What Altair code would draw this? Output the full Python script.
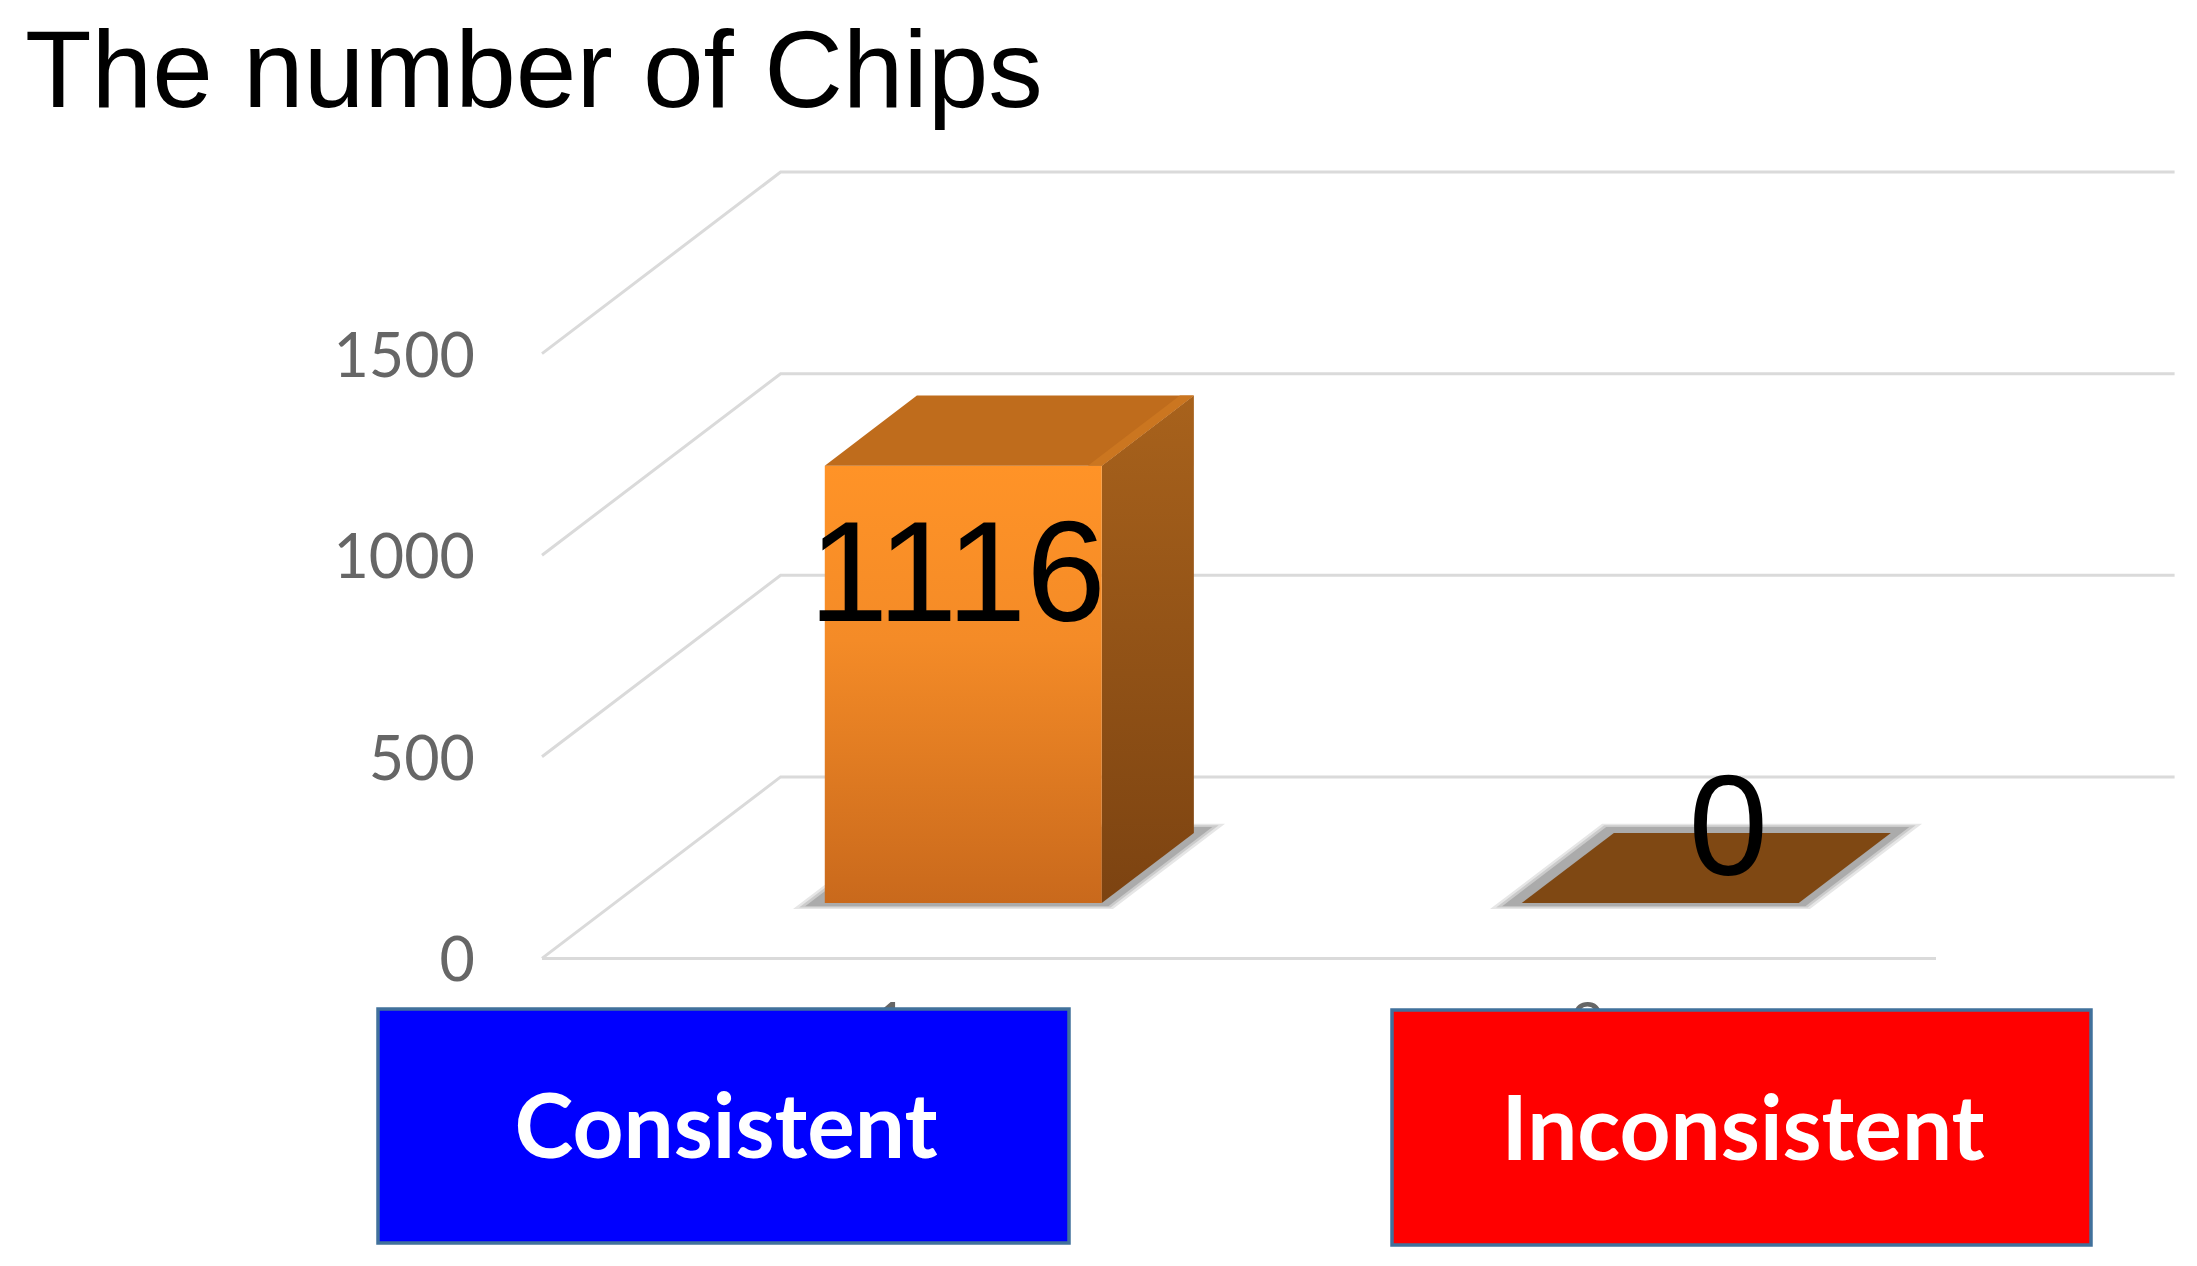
import altair as alt
import pandas as pd

# ---- chart values ----
categories = [1, 2]
values = [1116, 0]
value_labels = ["1116", "0"]
tick_values = [0, 500, 1000, 1500]
box_labels = ["Consistent", "Inconsistent"]
title_text = "The number of Chips"

# ---- layout / 3-D projection (page pixels -> data units) ----
W, H = 2181, 1120
PAD_TOP = 130
ORIGIN_X, ORIGIN_Y = 8, 8 + PAD_TOP
PX_PER_CAT = 697.0
PX_PER_VAL = 0.4032
X1_PX = 890.5      # page x of category 1 on the front plane
Y0_PX = 958.4      # page y of value 0 on the front plane
DEPTH_X = 238.6 / PX_PER_CAT   # shift of the back wall, in category units
DEPTH_Y = 181.5 / PX_PER_VAL   # shift of the back wall, in value units
FLOOR = (0.5, 2.5)
BAR_HALF = 0.1987
BAR_D0, BAR_D1 = 0.305, 0.691
BAR_K = 0.972

x_scale = alt.Scale(
    domain=[1 + (ORIGIN_X - X1_PX) / PX_PER_CAT, 1 + (ORIGIN_X + W - X1_PX) / PX_PER_CAT],
    range=[0, W], nice=False, zero=False)
y_scale = alt.Scale(
    domain=[(Y0_PX - ORIGIN_Y - H) / PX_PER_VAL, (Y0_PX - ORIGIN_Y) / PX_PER_VAL],
    range=[H, 0], nice=False, zero=False)


def px(x, v, d):
    return x + d * DEPTH_X, v + d * DEPTH_Y


def X(f="x"):
    return alt.X(f"{f}:Q", scale=x_scale, axis=None, title=None)


def Y(f="y"):
    return alt.Y(f"{f}:Q", scale=y_scale, axis=None, title=None)


def vgrad(stops):
    return alt.Gradient(gradient="linear", x1=0, y1=0, x2=0, y2=1,
                        stops=[alt.GradientStop(color=c, offset=o) for c, o in stops])


def floor_quad(c, lo, hi, d0, d1, v, color):
    """Parallelogram lying on a horizontal plane at height v."""
    rows = []
    for d in (d0, d1):
        xa, y = px(c + lo, v, d)
        xb, _ = px(c + hi, v, d)
        rows.append({"x": xa, "x2": xb, "y": y})
    return alt.Chart(pd.DataFrame(rows)).mark_area(orient="horizontal", color=color, line=False).encode(
        x=X(), x2="x2:Q", y=Y())


layers = []

# wall and floor lines
grid = []
for v in tick_values:
    for i, (xx, d) in enumerate([(FLOOR[0], 0), (FLOOR[0], 1), (FLOOR[1], 1)]):
        gx, gy = px(xx, v, d)
        grid.append({"x": gx, "y": gy, "k": v, "o": i})
for i, xx in enumerate(FLOOR):
    gx, gy = px(xx, 0, 0)
    grid.append({"x": gx, "y": gy, "k": -1, "o": i})
layers.append(alt.Chart(pd.DataFrame(grid)).mark_line(color="#DADADA", strokeWidth=3).encode(
    x=X(), y=Y(), detail="k:N", order="o:Q"))

# value-axis tick labels
layers.append(alt.Chart(pd.DataFrame({"x": [FLOOR[0]] * 4, "y": tick_values, "t": [str(t) for t in tick_values]}))
              .mark_text(font="Lato", fontSize=61, color="#666666", align="right", baseline="middle", dx=-67, dy=5)
              .encode(x=X(), y=Y(), text="t:N"))

# category tick labels, mostly covered by the boxes
layers.append(alt.Chart(pd.DataFrame({"x": categories, "y": [0, 0], "t": [str(c) for c in categories]}))
              .mark_text(font="Lato", fontSize=60, color="#666666", align="center", baseline="alphabetic", dy=87)
              .encode(x=X(), y=Y(), text="t:N"))

# bars
top_colors = ["#BF6C1C", "#7F4813"]
for c, v, top in zip(categories, values, top_colors):
    # soft shadow, stepped from light to dark
    layers.append(floor_quad(c, -0.233, 0.226, 0.272, 0.742, 0, "#E6E6E6"))
    layers.append(floor_quad(c, -0.227, 0.220, 0.280, 0.733, 0, "#CBCBCB"))
    layers.append(floor_quad(c, -0.221, 0.214, 0.288, 0.724, 0, "#ABABAB"))
    h = v * BAR_K
    if v > 0:
        # side face
        rows = []
        for d in (BAR_D0, BAR_D1):
            xx, y0 = px(c + BAR_HALF, 0, d)
            _, y1 = px(c + BAR_HALF, h, d)
            rows.append({"x": xx, "y": y1, "y2": y0})
        layers.append(alt.Chart(pd.DataFrame(rows)).mark_area(
            color=vgrad([("#A8621C", 0), ("#7C4311", 1)]), line=False).encode(x=X(), y=Y(), y2="y2:Q"))
        # front face
        xa, y0 = px(c - BAR_HALF, 0, BAR_D0)
        xb, y1 = px(c + BAR_HALF, h, BAR_D0)
        layers.append(alt.Chart(pd.DataFrame([{"x": xa, "x2": xb, "y": y1, "y2": y0}])).mark_rect(
            color=vgrad([("#FF9327", 0), ("#F48B27", 0.4), ("#C9691C", 1)])).encode(
            x=X(), x2="x2:Q", y=Y(), y2="y2:Q"))
    # top face
    layers.append(floor_quad(c, -BAR_HALF, BAR_HALF, BAR_D0, BAR_D1, h, top))
    if v > 0:
        layers.append(floor_quad(c, BAR_HALF - 0.02, BAR_HALF, BAR_D0, BAR_D1, h, "#CB7620"))

# data labels
label_font = dict(font="Liberation Sans", fontSize=143, color="#000000", align="center", baseline="alphabetic")
lx, ly = px(categories[0], values[0] * BAR_K, BAR_D0)
layers.append(alt.Chart(pd.DataFrame([{"x": lx, "y": ly, "t": value_labels[0]}])).mark_text(
    dx=-6, dy=155, **label_font).encode(x=X(), y=Y(), text="t:N"))
lx, ly = px(categories[1], values[1] * BAR_K, BAR_D0)
layers.append(alt.Chart(pd.DataFrame([{"x": lx, "y": ly, "t": value_labels[1]}])).mark_text(
    dx=68, dy=-28, **label_font).encode(x=X(), y=Y(), text="t:N"))

# labelled boxes
box_px = [(378, 1069, 1009, 1243, "#0000FF", 726, 1158),
          (1392, 2091, 1010, 1245, "#FF0000", 1743, 1160)]
for label, (x0, x1, y0, y1, fill, tx, ty) in zip(box_labels, box_px):
    one = pd.DataFrame({"t": [label]})
    layers.append(alt.Chart(one).mark_rect(fill=fill, stroke="#41719C", strokeWidth=3.5).encode(
        x=alt.value(x0 - ORIGIN_X), x2=alt.value(x1 - ORIGIN_X),
        y=alt.value(y0 - ORIGIN_Y), y2=alt.value(y1 - ORIGIN_Y)))
    layers.append(alt.Chart(one).mark_text(
        font="Lato", fontWeight="bold", fontSize=89, color="#FFFFFF", align="center", baseline="alphabetic").encode(
        x=alt.value(tx - ORIGIN_X), y=alt.value(ty - ORIGIN_Y), text="t:N"))

chart = alt.layer(*layers).properties(
    width=W, height=H,
    padding={"left": 0, "right": 0, "top": PAD_TOP, "bottom": 0},
    autosize=alt.AutoSizeParams(type="none"),
    background="#FFFFFF",
    title=alt.TitleParams(title_text, anchor="start", frame="group", font="Liberation Sans",
                          fontSize=109, fontWeight="normal", color="#000000",
                          baseline="alphabetic", offset=-78, dx=17),
).configure_view(stroke=None)

chart.save("out.html", embed_options={"renderer": "svg", "actions": False})
